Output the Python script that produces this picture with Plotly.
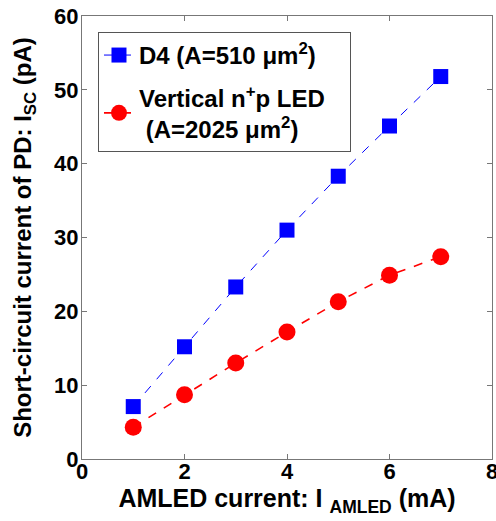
import plotly.graph_objects as go

x_current = [1, 2, 3, 4, 5, 6, 7]
d4_isc = [7.1, 15.2, 23.3, 31.0, 38.3, 45.1, 51.8]
vled_isc = [4.3, 8.7, 13.0, 17.2, 21.3, 24.9, 27.4]

x_ticks = [0, 2, 4, 6, 8]
y_ticks = [0, 10, 20, 30, 40, 50, 60]

FONT = "Liberation Sans, Arial, sans-serif"

fig = go.Figure()
fig.add_trace(go.Scatter(
    x=x_current, y=d4_isc, mode="lines+markers",
    name="D4 (A=510 \u03bcm<sup>2</sup>)", legendgroup="a",
    line=dict(color="#0000ff", width=1, dash="dash"),
    marker=dict(symbol="square", size=15, color="#0000ff"),
))
fig.add_trace(go.Scatter(
    x=x_current, y=vled_isc, mode="lines+markers",
    name="Vertical n<sup>+</sup>p LED\u00a0\u00a0\u00a0<br> (A=2025 \u03bcm<sup>2</sup>)", legendgroup="b",
    line=dict(color="#ff0000", width=1.6, dash="dash"),
    marker=dict(symbol="circle", size=17, color="#ff0000"),
))

axis_common = dict(
    showline=True, linecolor="#777777", linewidth=1, mirror="ticks",
    ticks="inside", ticklen=5, tickcolor="#777777",
    showgrid=False, zeroline=False, automargin=False,
    ticklabeloverflow="allow",
    tickfont=dict(family=FONT, size=22, color="black", weight="bold"),
)

fig.update_layout(
    width=496, height=521,
    margin=dict(l=82, r=4, t=16, b=62),
    paper_bgcolor="white", plot_bgcolor="white",
    font=dict(family=FONT, color="black"),
    xaxis=dict(range=[0, 8], tickvals=x_ticks, ticklabelstandoff=-7,
               title=dict(text="AMLED current: I <sub>AMLED</sub> (mA)",
                          font=dict(family=FONT, size=25, weight="bold"),
                          standoff=0),
               **axis_common),
    yaxis=dict(range=[0, 60], tickvals=y_ticks, ticklabelstandoff=-2,
               title=dict(text="Short-circuit current of PD: I<sub>SC</sub> (pA)",
                          font=dict(family=FONT, size=24, weight="bold"),
                          standoff=15),
               **axis_common),
    legend=dict(x=0.039, y=0.964, xanchor="left", yanchor="top",
                bordercolor="#555555", borderwidth=1, bgcolor="white",
                font=dict(family=FONT, size=24, color="black", weight="bold"),
                traceorder="grouped", tracegroupgap=8, itemwidth=30),
    showlegend=True,
)

fig.write_html("out.html", config={"displayModeBar": False},
               post_script="document.body.style.margin='0';document.body.style.padding='0';")
